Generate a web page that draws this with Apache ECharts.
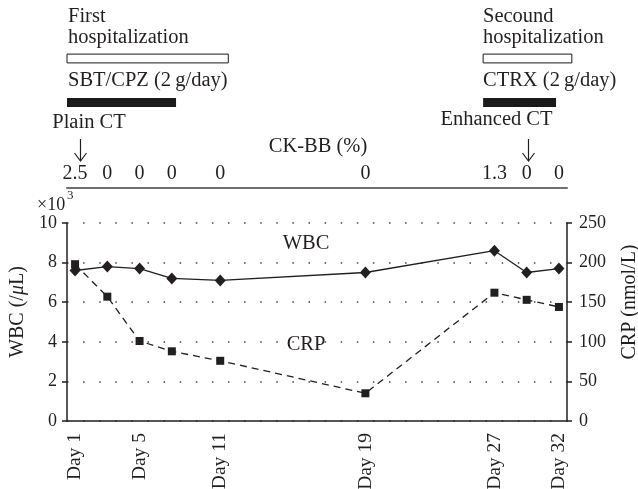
<!DOCTYPE html>
<html><head><meta charset="utf-8">
<script src="https://cdn.jsdelivr.net/npm/echarts@6/dist/echarts.min.js"></script>
<style>html,body{margin:0;padding:0;background:#fff}#c{width:638px;height:489px}</style>
</head><body><div id="c"></div>
<script>
// ---- data ----
const slotCount = 31;
const dayLabels = ['Day 1','Day 5','Day 11','Day 19','Day 27','Day 32'];
const dayLabelSlots = [0,4,9,18,26,30];
const sampleSlots = [0,2,4,6,9,18,26,28,30];
const wbc = [7.6,7.8,7.7,7.2,7.1,7.5,8.6,7.5,7.7];
const crp = [198,157,101,88,76,35,162,153,144];
const ckbb = ['2.5','0','0','0','0','0','1.3','0','0'];
const periodRows = ['hospitalization','antibiotic'];
const periodStart = [-0.5,-0.5,25.3,25.3];
const periodEnd = [9.5,6.26,30.8,29.82];
const periodRow = [0,1,0,1];

// ---- build ----
const FONT = 'Liberation Serif';
const INK = '#231f20';
const categories = Array.from({length: slotCount}, () => '');
dayLabelSlots.forEach((s,i) => categories[s] = dayLabels[i]);
const wbcData = Array.from({length: slotCount}, () => null);
const crpData = Array.from({length: slotCount}, () => null);
sampleSlots.forEach((s,i) => { wbcData[s] = wbc[i]; crpData[s] = crp[i]; });
const ckData = sampleSlots.map((s,i) => [s, 0.5]);

const chart = echarts.init(document.getElementById('c'), null, {renderer:'canvas'});
const txt = (text, x, y, size, align) => ({
  type:'text', x:x, y:y,
  style:{text:text, fontFamily:FONT, fontSize:size, fill:INK, align:align||'left', verticalAlign:'middle'}
});
const arrow = (x, y0, y1) => ({
  type:'group', children:[
    {type:'line', shape:{x1:x, y1:y0, x2:x, y2:y1}, style:{stroke:INK, lineWidth:1.2}},
    {type:'polyline', shape:{points:[[x-6,y1-8],[x,y1],[x+6,y1-8]]}, style:{stroke:INK, lineWidth:1.2, fill:null}}
  ]
});

chart.setOption({
  animation:false,
  grid:[
    {left:67, right:71, top:223, bottom:68, outerBoundsMode:'none', containLabel:false},
    {left:67, right:71, top:160, height:28, outerBoundsMode:'none', containLabel:false},
    {left:67, right:71, top:36.5, height:88, outerBoundsMode:'none', containLabel:false}
  ],
  xAxis:[
    {type:'category', gridIndex:0, data:categories, boundaryGap:true,
     axisLine:{lineStyle:{color:INK, width:1.5}}, axisTick:{show:false},
     axisLabel:{interval:0, rotate:90, margin:12, fontFamily:FONT, fontSize:19.5, color:INK},
     splitLine:{show:false}},
    {type:'category', gridIndex:1, data:categories, boundaryGap:true,
     axisLine:{lineStyle:{color:'#707070', width:2}}, axisTick:{show:false},
     axisLabel:{show:false}, splitLine:{show:false}},
    {type:'value', gridIndex:2, min:-0.5, max:30.5, show:false}
  ],
  yAxis:[
    {type:'value', gridIndex:0, min:0, max:10, interval:2, position:'left',
     axisLine:{show:true, lineStyle:{color:INK, width:1.5}},
     axisTick:{show:true, length:5, lineStyle:{color:INK, width:1.5}},
     axisLabel:{fontFamily:FONT, fontSize:18, color:INK, margin:10},
     splitLine:{show:true, lineStyle:{color:'#444', width:1.5, type:[1.5,14.6]}},
     name:'WBC (/{i|μ}L)', nameLocation:'middle', nameRotate:90, nameGap:28,
     nameTextStyle:{fontFamily:FONT, fontSize:20, color:INK, padding:[0,0,0,20],
       rich:{i:{fontFamily:FONT, fontSize:20, fontStyle:'italic', color:INK}}}},
    {type:'value', gridIndex:0, min:0, max:250, interval:50, position:'right',
     axisLine:{show:true, lineStyle:{color:INK, width:1.5}},
     axisTick:{show:true, length:5, lineStyle:{color:INK, width:1.5}},
     axisLabel:{fontFamily:FONT, fontSize:18, color:INK, margin:12},
     splitLine:{show:false},
     name:'CRP (nmol/L)', nameLocation:'middle', nameRotate:90, nameGap:53,
     nameTextStyle:{fontFamily:FONT, fontSize:20, color:INK, padding:[0,0,0,40]}},
    {type:'value', gridIndex:1, min:0, max:1, show:false},
    {type:'category', gridIndex:2, data:periodRows, inverse:true, show:false}
  ],
  series:[
    {type:'line', name:'WBC', xAxisIndex:0, yAxisIndex:0, data:wbcData, connectNulls:true,
     symbol:'diamond', symbolSize:[11,12], lineStyle:{color:INK, width:1.3},
     itemStyle:{color:INK}, z:3},
    {type:'line', name:'CRP', xAxisIndex:0, yAxisIndex:1, data:crpData, connectNulls:true,
     symbol:'rect', symbolSize:8, lineStyle:{color:INK, width:1.3, type:[7,5]},
     itemStyle:{color:INK}, z:4},
    {type:'scatter', xAxisIndex:1, yAxisIndex:2, data:ckData, symbolSize:1,
     itemStyle:{color:'rgba(0,0,0,0)', opacity:1},
     label:{show:true, position:'inside', formatter:p => ckbb[p.dataIndex],
       fontFamily:FONT, fontSize:20, color:INK, opacity:1}},
    {type:'custom', xAxisIndex:2, yAxisIndex:3, clip:false,
     data:periodStart.map((s,i) => [s, periodEnd[i], periodRow[i]]),
     encode:{x:[0,1], y:2},
     renderItem:(params, api) => {
       const row = api.value(2);
       const p0 = api.coord([api.value(0), row]);
       const p1 = api.coord([api.value(1), row]);
       const h = api.size([0,1])[1]*0.2;
       return {type:'rect', shape:{x:p0[0], y:p0[1]-h/2, width:p1[0]-p0[0], height:h},
         style:{fill: row===0 ? '#fff' : '#1a1a1a', stroke:'#1a1a1a', lineWidth: row===0 ? 1 : 0}};
     }}
  ],
  graphic:[
    txt('First', 68, 16.5, 20.5),
    txt('hospitalization', 68, 37.5, 20.5),
    txt('SBT/CPZ (2\u2009g/day)', 68, 81, 20.5),
    txt('Plain CT', 89, 123, 20.5, 'center'),
    txt('Secound', 483, 16.5, 20.5),
    txt('hospitalization', 483, 37.5, 20.5),
    txt('CTRX (2\u2009g/day)', 483, 81, 20.5),
    txt('Enhanced CT', 496.5, 119.5, 20.5, 'center'),
    txt('CK-BB (%)', 318, 146.3, 20.5, 'center'),
    txt('WBC', 306, 243.5, 20.5, 'center'),
    txt('CRP', 306, 345, 20.5, 'center'),
    txt('×10', 37, 205, 18),
    txt('3', 67, 196, 13),
    arrow(80.5, 139, 161),
    arrow(528.5, 139, 161)
  ]
});
</script></body></html>
